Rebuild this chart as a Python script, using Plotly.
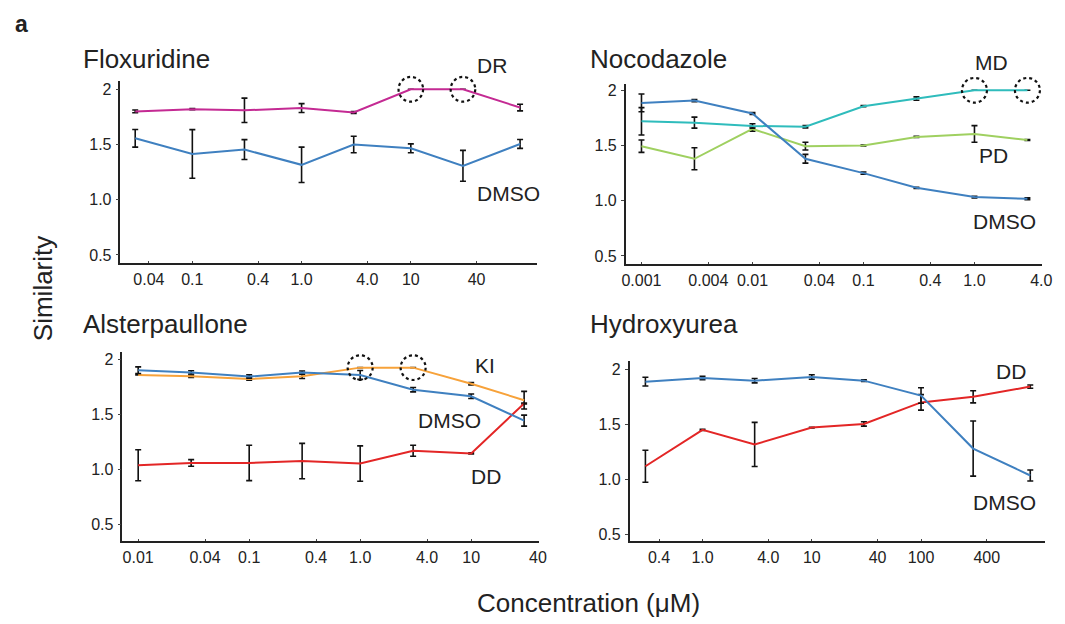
import plotly.graph_objects as go

W, H = 1065, 624

# ---------------- data ----------------
flox_conc = [0.03, 0.1, 0.3, 1, 3, 10, 30, 100]
flox_dr = [1.80, 1.82, 1.81, 1.83, 1.79, 2.0, 2.0, 1.835]
flox_dr_err = [0.012, 0.005, 0.11, 0.04, 0.008, 0.0, 0.0, 0.03]
flox_dmso = [1.556, 1.415, 1.454, 1.316, 1.50, 1.466, 1.307, 1.505]
flox_dmso_err = [0.08, 0.22, 0.09, 0.16, 0.075, 0.04, 0.14, 0.04]

noco_conc = [0.001, 0.003, 0.01, 0.03, 0.1, 0.3, 1, 3]
noco_dmso = [1.886, 1.907, 1.79, 1.38, 1.25, 1.117, 1.033, 1.018]
noco_dmso_err = [0.08, 0.01, 0.008, 0.04, 0.01, 0.005, 0.008, 0.008]
noco_md = [1.719, 1.707, 1.677, 1.67, 1.856, 1.925, 2.0, 2.0]
noco_md_err = [0.124, 0.05, 0.02, 0.01, 0.005, 0.015, 0.0, 0.0]
noco_pd = [1.494, 1.38, 1.65, 1.494, 1.50, 1.578, 1.605, 1.55]
noco_pd_err = [0.056, 0.1, 0.02, 0.035, 0.005, 0.005, 0.075, 0.005]

alst_conc = [0.01, 0.03, 0.1, 0.3, 1, 3, 10, 30]
alst_dmso = [1.90, 1.88, 1.842, 1.878, 1.857, 1.723, 1.664, 1.443]
alst_dmso_err = [0.03, 0.015, 0.015, 0.015, 0.04, 0.02, 0.02, 0.05]
alst_ki = [1.857, 1.845, 1.82, 1.845, 1.923, 1.923, 1.777, 1.628]
alst_ki_err = [0.0, 0.01, 0.01, 0.02, 0.0, 0.0, 0.01, 0.08]
alst_dd = [1.039, 1.06, 1.06, 1.077, 1.054, 1.17, 1.146, 1.598]
alst_dd_err = [0.14, 0.03, 0.16, 0.16, 0.16, 0.05, 0.005, 0.005]

hydr_conc = [0.3, 1, 3, 10, 30, 100, 300, 1000]
hydr_dmso = [1.886, 1.919, 1.895, 1.928, 1.895, 1.76, 1.28, 1.036]
hydr_dmso_err = [0.04, 0.015, 0.02, 0.02, 0.008, 0.07, 0.25, 0.05]
hydr_dd = [1.12, 1.449, 1.317, 1.47, 1.503, 1.698, 1.749, 1.841]
hydr_dd_err = [0.145, 0.005, 0.2, 0.003, 0.02, 0.07, 0.055, 0.015]

y_tickvals = [0.5, 1.0, 1.5, 2.0]
y_ticktext = ["0.5", "1.0", "1.5", "2"]
flox_ticks = [0.04, 0.1, 0.4, 1, 4, 10, 40]
flox_ticktext = ["0.04", "0.1", "0.4", "1.0", "4.0", "10", "40"]
noco_ticks = [0.001, 0.004, 0.01, 0.04, 0.1, 0.4, 1, 4]
noco_ticktext = ["0.001", "0.004", "0.01", "0.04", "0.1", "0.4", "1.0", "4.0"]
alst_ticks = [0.01, 0.04, 0.1, 0.4, 1, 4, 10, 40]
alst_ticktext = ["0.01", "0.04", "0.1", "0.4", "1.0", "4.0", "10", "40"]
hydr_ticks = [0.4, 1, 4, 10, 40, 100, 400]
hydr_ticktext = ["0.4", "1.0", "4.0", "10", "40", "100", "400"]

# axis ranges (x in log10)
flox_yr = [0.428, 2.072]
noco_yr = [0.428, 2.054]
alst_yr = [0.356, 2.063]
hydr_yr = [0.446, 2.072]

# highlighted (circled) points: (panel, series x, series y, y range, indices)
circled = [
    ("flox", flox_conc, flox_dr, flox_yr, [5, 6]),
    ("noco", noco_conc, noco_md, noco_yr, [6, 7]),
    ("alst", alst_conc, alst_ki, alst_yr, [4, 5]),
]

C_DMSO = "#3f80c0"
C_DR = "#c42a93"
C_MD = "#2fbcbc"
C_PD = "#9fd060"
C_KI = "#f7a23a"
C_DD = "#e32626"

FONT = "Liberation Sans, Arial, sans-serif"

fig = go.Figure()

axmap = {"flox": ("x", "y"), "noco": ("x2", "y2"), "alst": ("x3", "y3"), "hydr": ("x4", "y4")}


def add_series(panel, xs, ys, err, color):
    xa, ya = axmap[panel]
    fig.add_trace(go.Scatter(
        x=xs, y=ys, mode="lines", xaxis=xa, yaxis=ya,
        line=dict(color=color, width=2),
        error_y=dict(type="data", array=err, visible=True, color="#111111",
                     thickness=1.6, width=3),
        showlegend=False, hoverinfo="x+y"))


add_series("flox", flox_conc, flox_dmso, flox_dmso_err, C_DMSO)
add_series("flox", flox_conc, flox_dr, flox_dr_err, C_DR)
add_series("noco", noco_conc, noco_pd, noco_pd_err, C_PD)
add_series("noco", noco_conc, noco_md, noco_md_err, C_MD)
add_series("noco", noco_conc, noco_dmso, noco_dmso_err, C_DMSO)
add_series("alst", alst_conc, alst_dd, alst_dd_err, C_DD)
add_series("alst", alst_conc, alst_ki, alst_ki_err, C_KI)
add_series("alst", alst_conc, alst_dmso, alst_dmso_err, C_DMSO)
add_series("hydr", hydr_conc, hydr_dd, hydr_dd_err, C_DD)
add_series("hydr", hydr_conc, hydr_dmso, hydr_dmso_err, C_DMSO)

# dotted circles (radius ~12.5 px: 0.1126 decade horizontally, 0.112 units vertically)
# y given relative to the axis domain so the circle is not clipped at the top of the plot
KX = 10 ** 0.1126
RY = 0.112
for panel, xs, ys, yr, idxs in circled:
    xa, ya = axmap[panel]
    for i in idxs:
        f0 = (ys[i] - RY - yr[0]) / (yr[1] - yr[0])
        f1 = (ys[i] + RY - yr[0]) / (yr[1] - yr[0])
        fig.add_shape(type="circle", xref=xa, yref=ya + " domain",
                      x0=xs[i] / KX, x1=xs[i] * KX, y0=f0, y1=f1,
                      line=dict(color="#111111", width=2.2, dash="dot"))


def px_x(p):
    return p / W


def px_y(p):
    return 1 - p / H


def xaxis(dom, rng, tv, tt, anchor):
    return dict(type="log", domain=dom, range=rng, tickvals=tv, ticktext=tt,
                showgrid=False, zeroline=False, showline=True, linecolor="#222222",
                linewidth=1.5, ticks="inside", ticklen=2, tickwidth=1, tickcolor="#444444",
                anchor=anchor,
                tickfont=dict(size=16, color="#222222", family=FONT),
                ticklabelstandoff=1)


def yaxis(dom, rng, anchor):
    return dict(domain=dom, range=rng, tickvals=y_tickvals, ticktext=y_ticktext,
                showgrid=False, zeroline=False, showline=True, linecolor="#222222",
                linewidth=1.5, ticks="outside", ticklen=3, tickwidth=1, tickcolor="#444444",
                anchor=anchor,
                tickfont=dict(size=16, color="#222222", family=FONT),
                ticklabelstandoff=1)


fig.update_layout(
    width=W, height=H, margin=dict(l=0, r=0, t=0, b=0),
    paper_bgcolor="white", plot_bgcolor="white",
    font=dict(family=FONT, color="#222222"),
    xaxis=xaxis([px_x(118), px_x(540)], [-1.658, 2.154], flox_ticks, flox_ticktext, "y"),
    yaxis=yaxis([px_y(263), px_y(80)], flox_yr, "x"),
    xaxis2=xaxis([px_x(630), px_x(1052)], [-3.142, 0.61], noco_ticks, noco_ticktext, "y2"),
    yaxis2=yaxis([px_y(264), px_y(83)], noco_yr, "x2"),
    xaxis3=xaxis([px_x(120), px_x(542)], [-2.142, 1.61], alst_ticks, alst_ticktext, "y3"),
    yaxis3=yaxis([px_y(543), px_y(353)], alst_yr, "x3"),
    xaxis4=xaxis([px_x(634), px_x(1055)], [-0.667, 3.136], hydr_ticks, hydr_ticktext, "y4"),
    yaxis4=yaxis([px_y(543), px_y(362)], hydr_yr, "x4"),
)

annots = []


def txt(text, x, y, size, xanchor="center", bold=False, angle=0):
    annots.append(dict(text=("<b>%s</b>" % text) if bold else text,
                       x=px_x(x), y=px_y(y), xref="paper", yref="paper",
                       xanchor=xanchor, yanchor="middle", showarrow=False,
                       textangle=angle,
                       font=dict(size=size, color="#222222", family=FONT)))


txt("a", 18, 22, 23, bold=True)
txt("Floxuridine", 78, 57, 26, xanchor="left")
txt("Nocodazole", 592, 57, 26, xanchor="left")
txt("Alsterpaullone", 78, 325, 26, xanchor="left")
txt("Hydroxyurea", 592, 325, 26, xanchor="left")

txt("DR", 494, 64, 21)
txt("DMSO", 511, 193, 21)
txt("MD", 1001, 61, 21)
txt("PD", 1003, 155, 21)
txt("DMSO", 1014, 221, 21)
txt("KI", 487, 366, 21)
txt("DMSO", 451, 422, 21)
txt("DD", 488, 478, 21)
txt("DD", 1020, 372, 21)
txt("DMSO", 1014, 505, 21)

txt("Similarity", 39, 289, 26, angle=-90)
txt("Concentration (μM)", 592, 606, 26)

fig.update_layout(annotations=annots)

fig.write_html("out.html", config={"displayModeBar": False},
               post_script="document.body.style.margin='0';document.body.style.overflow='hidden';")
